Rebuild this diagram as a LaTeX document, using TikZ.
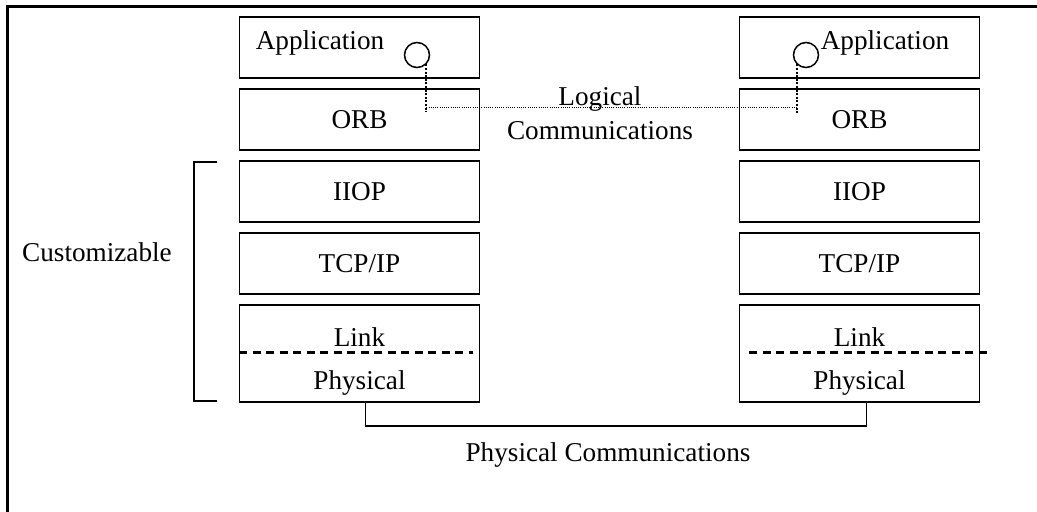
\documentclass[tikz,border=0pt]{standalone}
\usepackage{fontspec}
\setmainfont{Liberation Serif}
\usetikzlibrary{positioning, calc}
\tikzset{
  stackbox/.style = {draw, line width=1.8bp, minimum width=240bp, minimum height=#1, inner sep=0pt, outer sep=0pt},
  stackbox/.default = 61bp,
  caption/.style = {inner sep=0pt, font=\fontsize{27.3}{34}\selectfont},
  port/.style = {draw, circle, line width=1.5bp, minimum size=25bp, inner sep=0pt},
  logicv/.style = {line width=2bp, dash pattern=on 2bp off 1.6bp},
  logich/.style = {line width=1bp, dash pattern=on 1bp off 1.2bp},
  splitline/.style = {line width=3bp, dash pattern=on 8bp off 5.5bp},
  wire/.style = {line width=1.8bp},
}

\begin{document}
\begin{tikzpicture}[x=1bp, y=-1bp]
  \useasboundingbox (0,0) rectangle (1037,512);
  % frame
  \draw[line width=3bp] (1037,7) -- (7,7) -- (7,512);

  % left stack
  \node[stackbox] (lapp) at (359.5,47.5) {};
  \node[stackbox, below=11bp of lapp] (lorb) {};
  \node[stackbox, below=11bp of lorb] (liiop) {};
  \node[stackbox, below=11bp of liiop] (ltcp) {};
  \node[stackbox=97bp, below=11bp of ltcp] (lstack) {};
  \node[caption] (lapptxt) at (320,43) {Application};
  \node[caption] (lorbtxt) at (lorb) {ORB};
  \node[caption] (liioptxt) at (liiop) {IIOP};
  \node[caption] (ltcptxt) at (ltcp) {TCP/IP};
  \node[caption] (llink) at (359.5,337) {Link};
  \node[caption] (lphys) at (359.5,383) {Physical};
  \draw[splitline] (239,353) -- (473,353);

  % right stack
  \node[stackbox] (rapp) at (859.5,47.5) {};
  \node[stackbox, below=11bp of rapp] (rorb) {};
  \node[stackbox, below=11bp of rorb] (riiop) {};
  \node[stackbox, below=11bp of riiop] (rtcp) {};
  \node[stackbox=97bp, below=11bp of rtcp] (rstack) {};
  \node[caption] (rapptxt) at (885,43) {Application};
  \node[caption] (rorbtxt) at (rorb) {ORB};
  \node[caption] (riioptxt) at (riiop) {IIOP};
  \node[caption] (rtcptxt) at (rtcp) {TCP/IP};
  \node[caption] (rlink) at (859.5,337) {Link};
  \node[caption] (rphys) at (859.5,383) {Physical};
  \draw[splitline] (749,353) -- (988,353);

  % logical path
  \node[port] (lport) at (417,55) {};
  \node[port] (rport) at (806,55) {};
  \coordinate (logic) at (0,108);
  \draw[logicv] (lport.south east) -- ++(0,48);
  \draw[logicv] (rport.south west) -- ++(0,49);
  \draw[logich] (lport.south east |- logic) -- (rport.south west |- logic);
  \node[caption, align=center] (logtxt) at (600,113) {Logical\\Communications};

  % customizable bracket
  \draw[wire] (217,162) -- (194,162) -- (194,401) -- (217,401);
  \node[caption] (custom) at (97,252) {Customizable};

  % physical path
  \coordinate (bus) at (0,426);
  \draw[wire] ([xshift=6bp]lstack.south) |- ([xshift=7bp]rstack.south |- bus) -- ([xshift=7bp]rstack.south);
  \node[caption] (phystxt) at (608,455) {Physical Communications};
\end{tikzpicture}
\end{document}
